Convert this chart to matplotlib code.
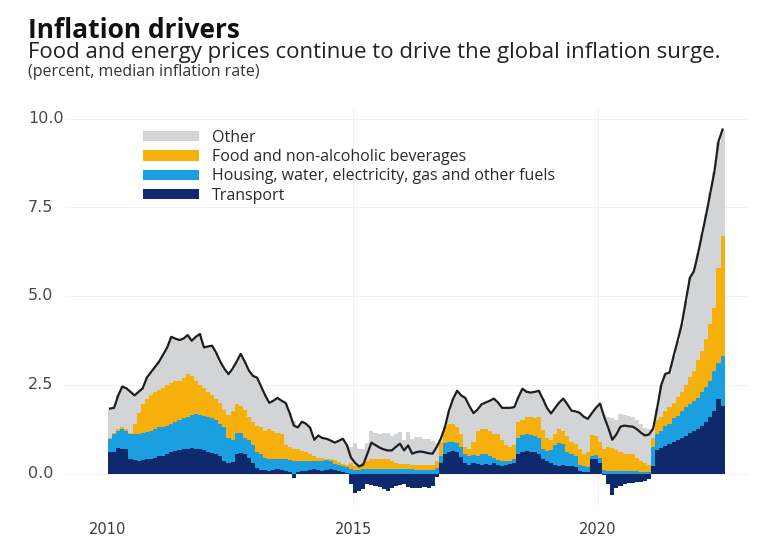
import matplotlib
matplotlib.use("Agg")
import matplotlib.pyplot as plt
import matplotlib.transforms as mtransforms
from matplotlib.patches import Patch
import numpy as np

# Monthly data, Jan 2010 .. Jul 2022 (percent, median inflation rate)
start_year = 2010
total = [
    1.83, 1.85, 2.2, 2.45, 2.4, 2.3, 2.2, 2.3, 2.4, 2.7, 2.85, 3.0,
    3.15, 3.35, 3.55, 3.85, 3.8, 3.76, 3.8, 3.9, 3.74, 3.85, 3.93, 3.55,
    3.58, 3.6, 3.4, 3.15, 2.95, 2.8, 2.95, 3.15, 3.37, 3.15, 2.9, 2.75,
    2.7, 2.45, 2.2, 1.99, 2.05, 2.13, 2.05, 1.99, 1.7, 1.35, 1.3, 1.46,
    1.4, 1.29, 0.95, 1.07, 1.0, 0.98, 0.93, 0.87, 0.92, 0.98, 0.8, 0.45,
    0.3, 0.2, 0.25, 0.55, 0.87, 0.8, 0.73, 0.68, 0.65, 0.65, 0.75, 0.84,
    0.65, 0.79, 0.56, 0.6, 0.62, 0.6, 0.57, 0.56, 0.75, 0.98, 1.3, 1.77,
    2.1, 2.33, 2.2, 2.13, 1.9, 1.7, 1.8, 1.95, 2.0, 2.05, 2.11, 2.0,
    1.85, 1.85, 1.85, 1.87, 2.15, 2.39, 2.3, 2.28, 2.3, 2.33, 2.1, 1.85,
    1.69, 1.85, 2.0, 2.11, 1.95, 1.77, 1.75, 1.71, 1.6, 1.54, 1.7, 1.85,
    1.97, 1.6, 1.29, 0.95, 1.1, 1.32, 1.35, 1.33, 1.32, 1.25, 1.15, 1.07,
    1.1, 1.26, 1.85, 2.5, 2.81, 2.84, 3.3, 3.74, 4.2, 4.86, 5.51, 5.7,
    6.2, 6.75, 7.3, 7.9, 8.5, 9.35, 9.69,
]
transport = [
    0.6, 0.6, 0.72, 0.7, 0.68, 0.4, 0.37, 0.35, 0.38, 0.4, 0.42, 0.45,
    0.48, 0.5, 0.55, 0.6, 0.62, 0.65, 0.68, 0.7, 0.72, 0.7, 0.68, 0.65,
    0.6, 0.58, 0.55, 0.5, 0.35, 0.3, 0.32, 0.55, 0.58, 0.55, 0.45, 0.3,
    0.15, 0.1, 0.1, 0.08, 0.1, 0.12, 0.1, 0.08, 0.05, -0.12, 0.03, 0.06,
    0.08, 0.1, 0.12, 0.1, 0.08, 0.1, 0.12, 0.1, 0.08, 0.05, 0.02, -0.3,
    -0.55, -0.5, -0.45, -0.3, -0.32, -0.35, -0.38, -0.45, -0.48, -0.4, -0.35, -0.32,
    -0.3, -0.38, -0.4, -0.42, -0.4, -0.38, -0.4, -0.35, -0.1, 0.3, 0.55, 0.6,
    0.62, 0.6, 0.47, 0.3, 0.25, 0.3, 0.28, 0.25, 0.27, 0.25, 0.3, 0.25,
    0.22, 0.25, 0.28, 0.3, 0.55, 0.6, 0.62, 0.6, 0.6, 0.55, 0.4, 0.35,
    0.3, 0.25, 0.22, 0.25, 0.2, 0.22, 0.18, 0.08, 0.03, 0.05, 0.4, 0.42,
    0.3, -0.05, -0.3, -0.6, -0.4, -0.35, -0.3, -0.28, -0.28, -0.25, -0.25, -0.2,
    -0.15, 0.2, 0.65, 0.72, 0.78, 0.84, 0.9, 0.95, 1.0, 1.05, 1.15, 1.2,
    1.25, 1.35, 1.45, 1.6, 1.75, 2.1, 1.9,
]
housing = [
    0.38, 0.5, 0.48, 0.56, 0.52, 0.7, 0.73, 0.77, 0.77, 0.78, 0.78, 0.8,
    0.82, 0.82, 0.8, 0.8, 0.83, 0.85, 0.87, 0.9, 0.93, 0.99, 0.97, 0.97,
    1.0, 0.97, 0.95, 0.9, 0.95, 0.7, 0.63, 0.6, 0.57, 0.45, 0.48, 0.5,
    0.45, 0.45, 0.35, 0.34, 0.32, 0.3, 0.32, 0.32, 0.33, 0.35, 0.32, 0.29,
    0.27, 0.25, 0.23, 0.25, 0.28, 0.28, 0.23, 0.17, 0.17, 0.17, 0.16, 0.12,
    0.1, 0.1, 0.12, 0.12, 0.12, 0.12, 0.12, 0.12, 0.12, 0.12, 0.12, 0.12,
    0.12, 0.12, 0.12, 0.1, 0.1, 0.1, 0.1, 0.1, 0.15, 0.2, 0.3, 0.3,
    0.28, 0.25, 0.28, 0.25, 0.25, 0.22, 0.22, 0.3, 0.28, 0.25, 0.15, 0.13,
    0.13, 0.1, 0.07, 0.1, 0.45, 0.48, 0.48, 0.48, 0.45, 0.45, 0.3, 0.27,
    0.35, 0.55, 0.63, 0.57, 0.4, 0.33, 0.32, 0.17, 0.17, 0.13, 0.1, 0.1,
    0.15, 0.1, 0.08, 0.08, 0.08, 0.08, 0.08, 0.08, 0.06, 0.06, 0.05, 0.05,
    0.05, 0.55, 0.45, 0.48, 0.57, 0.56, 0.65, 0.68, 0.75, 0.81, 0.8, 0.85,
    0.89, 0.95, 0.98, 1.0, 1.15, 1.0, 1.4,
]
food = [
    0.02, 0.05, 0.05, 0.04, 0.05, 0.05, 0.3, 0.58, 0.8, 0.92, 1.0, 1.05,
    1.05, 1.08, 1.15, 1.15, 1.15, 1.1, 1.15, 1.2, 1.1, 0.91, 0.85, 0.78,
    0.7, 0.65, 0.6, 0.6, 0.5, 0.65, 0.8, 0.8, 0.75, 0.8, 0.67, 0.65,
    0.75, 0.75, 0.75, 0.83, 0.78, 0.73, 0.68, 0.4, 0.37, 0.35, 0.33, 0.27,
    0.25, 0.2, 0.15, 0.1, 0.09, 0.04, 0.05, 0.11, 0.08, 0.06, 0.07, 0.18,
    0.12, 0.15, 0.18, 0.23, 0.28, 0.3, 0.3, 0.28, 0.28, 0.23, 0.18, 0.16,
    0.16, 0.16, 0.13, 0.15, 0.14, 0.14, 0.15, 0.15, 0.2, 0.4, 0.5, 0.5,
    0.5, 0.45, 0.37, 0.2, 0.2, 0.38, 0.7, 0.71, 0.7, 0.7, 0.67, 0.72,
    0.6, 0.45, 0.4, 0.4, 0.45, 0.42, 0.5, 0.52, 0.5, 0.6, 0.52, 0.38,
    0.29, 0.3, 0.41, 0.38, 0.45, 0.35, 0.34, 0.45, 0.36, 0.42, 0.58, 0.53,
    0.45, 0.6, 0.67, 0.64, 0.57, 0.52, 0.48, 0.48, 0.49, 0.39, 0.3, 0.25,
    0.2, 0.25, 0.4, 0.4, 0.4, 0.46, 0.45, 0.52, 0.55, 0.64, 0.77, 0.85,
    1.06, 1.16, 1.37, 1.6, 1.77, 2.7, 3.4,
]
series_labels = ["Other", "Food and non-alcoholic beverages",
                 "Housing, water, electricity, gas and other fuels", "Transport"]
y_ticks = [0.0, 2.5, 5.0, 7.5, 10.0]
x_ticks = [2010, 2015, 2020]

c_other = "#d3d4d6"
c_food = "#f5b00c"
c_housing = "#1c9fe0"
c_transport = "#0f2a6c"

T = np.array(transport)
H = np.array(housing)
F = np.array(food)
TOT = np.array(total)
O = TOT - T - H - F
n = len(TOT)
x = start_year + np.arange(n) / 12.0 + 1 / 24.0
base = np.clip(T, 0, None)

W, Hpx = 759, 539
fig = plt.figure(figsize=(W / 100, Hpx / 100), dpi=100)
fig.patch.set_facecolor("white")

ax_l, ax_r, ax_t, ax_b = 65, 750, 110, 505
ax = fig.add_axes([ax_l / W, 1 - ax_b / Hpx, (ax_r - ax_l) / W, (ax_b - ax_t) / Hpx])
px_per_year = 49.0
x0_px = 108.0
ax.set_xlim(2010 - (x0_px - ax_l) / px_per_year, 2010 + (ax_r - x0_px) / px_per_year)
px_per_unit = 35.5
zero_px = 473.5
ax.set_ylim(-(ax_b - zero_px) / px_per_unit, (zero_px - ax_t) / px_per_unit)

for s in ax.spines.values():
    s.set_visible(False)
ax.set_xticks([])
ax.set_yticks([])

for yt in y_ticks:
    ax.axhline(yt, color="#f1f1f1", lw=0.8, zorder=0)
for xt in x_ticks[1:]:
    ax.axvline(xt, color="#f1f1f1", lw=0.8, zorder=0)

bw = 1 / 12.0
ax.bar(x, T, width=bw, bottom=0, color=c_transport, linewidth=0, zorder=2)
ax.bar(x, H, width=bw, bottom=base, color=c_housing, linewidth=0, zorder=2)
ax.bar(x, F, width=bw, bottom=base + H, color=c_food, linewidth=0, zorder=2)
ax.bar(x, O, width=bw, bottom=base + H + F, color=c_other, linewidth=0, zorder=2)
ax.plot(x, TOT, color="#1e1e1e", lw=1.6, zorder=3, solid_joinstyle="round")

# y tick labels (left aligned at the figure edge)
trans_y = mtransforms.blended_transform_factory(fig.transFigure, ax.transData)
for yt in y_ticks:
    fig.text(28 / W, yt, f"{yt:.1f}", transform=trans_y, ha="left", va="center",
             fontsize=11.5, color="#4a4a4a", family="DejaVu Sans")
trans_x = mtransforms.blended_transform_factory(ax.transData, fig.transFigure)
for xt in x_ticks:
    fig.text(xt, 1 - 530 / Hpx, str(xt), transform=trans_x, ha="center", va="center",
             fontsize=10.5, color="#3a3a3a", family="DejaVu Sans")

fig.text(28 / W, 1 - 38 / Hpx, "Inflation drivers", ha="left", va="baseline",
         fontsize=19, fontweight="bold", color="#111111", family="Open Sans")
fig.text(28 / W, 1 - 58 / Hpx,
         "Food and energy prices continue to drive the global inflation surge.",
         ha="left", va="baseline", fontsize=16, color="#222222", family="Open Sans")
fig.text(28 / W, 1 - 76 / Hpx, "(percent, median inflation rate)", ha="left", va="baseline",
         fontsize=11.5, color="#333333", family="Open Sans")

handles = [Patch(facecolor=c, edgecolor="none") for c in [c_other, c_food, c_housing, c_transport]]
leg = ax.legend(handles, series_labels, loc="upper left",
                bbox_to_anchor=(143 / W, 1 - 130 / Hpx), bbox_transform=fig.transFigure,
                frameon=False, handlelength=3.5, handleheight=0.6,
                handletextpad=0.8, labelspacing=0.2, borderaxespad=0, borderpad=0,
                prop={"family": "Open Sans", "size": 11.5})
for t in leg.get_texts():
    t.set_color("#2a2a2a")

fig.savefig("out.png", dpi=100, facecolor="white")
